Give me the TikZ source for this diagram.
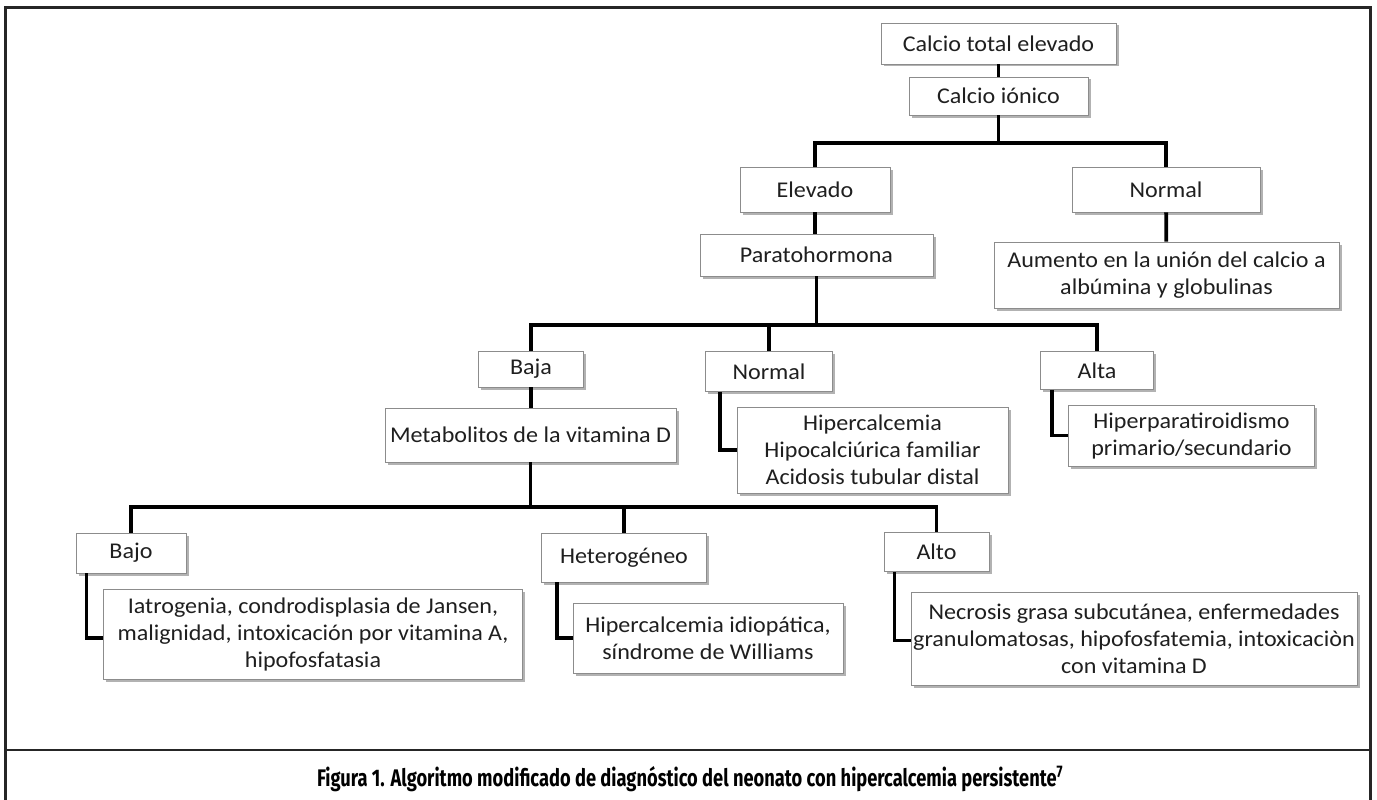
\documentclass[tikz,border=0pt]{standalone}
\usepackage{fontspec}
\usetikzlibrary{shadows}
\newfontfamily\boxfont{Carlito}[FakeStretch=1.07]
\newfontfamily\capfont{Fira Sans}
\tikzset{
  box/.style={draw=black!45, line width=0.9pt, fill=white, align=center, inner sep=0pt,
    text=black!88, font=\boxfont\fontsize{22.5}{27}\selectfont,
    drop shadow={shadow xshift=2.5pt, shadow yshift=-2.5pt, opacity=0.3, fill=black}},
  conn/.style={line width=3.8pt, black, line join=miter},
  frame/.style={line width=2.4pt, black!85}
}
\begin{document}
\begin{tikzpicture}[x=1pt,y=-1pt]
\useasboundingbox (0,0) rectangle (1377,800);
% frame
\draw[frame] (5.5,800) -- (5.5,7.5) -- (1370.5,7.5) -- (1370.5,800);
\draw[frame] (5.5,750) -- (1370.5,750);
% nodes
\node[box, minimum width=235pt, minimum height=41pt] (tot) at (998.5,43.5) {Calcio total elevado};
\node[box, minimum width=179pt, minimum height=38pt] (ion) at (998.5,96) {Calcio iónico};
\node[box, minimum width=150pt, minimum height=45pt] (elev) at (815,189.5) {Elevado};
\node[box, minimum width=188pt, minimum height=45pt] (normA) at (1166,189.5) {Normal};
\node[box, minimum width=233pt, minimum height=42pt] (pth) at (816.5,255) {Paratohormona};
\node[box, minimum width=345pt, minimum height=66pt] (aum) at (1166.5,275) {Aumento en la unión del calcio a\\albúmina y globulinas};
\node[box, minimum width=105pt, minimum height=36pt] (baja) at (531,369) {Baja};
\node[box, minimum width=127pt, minimum height=40pt] (normB) at (769,371.5) {Normal};
\node[box, minimum width=113pt, minimum height=38pt] (alta) at (1097,370.5) {Alta};
\node[box, minimum width=291pt, minimum height=54pt] (meta) at (530.5,435) {Metabolitos de la vitamina D};
\node[box, minimum width=271pt, minimum height=86pt] (hipB) at (872.5,450) {Hipercalcemia\\Hipocalciúrica familiar\\Acidosis tubular distal};
\node[box, minimum width=246pt, minimum height=61pt] (hiperp) at (1191.5,435.5) {Hiperparatiroidismo\\primario/secundario};
\node[box, minimum width=110pt, minimum height=40pt] (bajo) at (131,553) {Bajo};
\node[box, minimum width=165pt, minimum height=49pt] (het) at (624,557.5) {Heterogéneo};
\node[box, minimum width=105pt, minimum height=39pt] (alto) at (936.5,552) {Alto};
\node[box, minimum width=419pt, minimum height=90pt] (iat) at (313,634) {Iatrogenia, condrodisplasia de Jansen,\\malignidad, intoxicación por vitamina A,\\hipofosfatasia};
\node[box, minimum width=270pt, minimum height=70pt] (hid) at (708,638) {Hipercalcemia idiopática,\\síndrome de Williams};
\node[box, minimum width=446pt, minimum height=93pt] (nec) at (1134,638.5) {Necrosis grasa subcutánea, enfermedades\\granulomatosas, hipofosfatemia, intoxicaciòn\\con vitamina D};
% junctions
\coordinate (j1) at (998.5,143);
\coordinate (j2) at (816.5,325);
\coordinate (j3) at (530.5,507);
% connectors
\draw[conn] (tot) -- (ion);
\draw[conn] (ion) -- (j1);
\draw[conn] (elev.north) |- (j1) -| (normA.north);
\draw[conn] (elev.south) -- (elev.south |- pth.north);
\draw[conn] (normA) -- (aum);
\draw[conn] (pth) -- (j2);
\draw[conn] (baja.north) |- (j2) -| (alta.north);
\draw[conn] (normB.north) -- (normB.north |- j2);
\draw[conn] (baja.south) -- (baja.south |- meta.north);
\draw[conn] (meta.south) -- (j3);
\draw[conn] (bajo.north) |- (j3) -| (alto.north);
\draw[conn] (het.north) -- (het.north |- j3);
\draw[conn] ([xshift=15pt]normB.south west) |- (hipB.west);
\draw[conn] ([xshift=12pt]alta.south west) |- (hiperp.west);
\draw[conn] ([xshift=11pt]bajo.south west) |- ([yshift=-4pt]iat.west);
\draw[conn] ([xshift=16pt]het.south west) |- (hid.west);
\draw[conn] ([xshift=11pt]alto.south west) |- ([yshift=-2pt]nec.west);
% caption
\node[text=black] (cap) at (690,779) {\resizebox{746pt}{\height}{\capfont\bfseries\fontsize{24}{28}\selectfont Figura 1. Algoritmo modificado de diagnóstico del neonato con hipercalcemia persistente\textsuperscript{7}}};
\end{tikzpicture}
\end{document}
